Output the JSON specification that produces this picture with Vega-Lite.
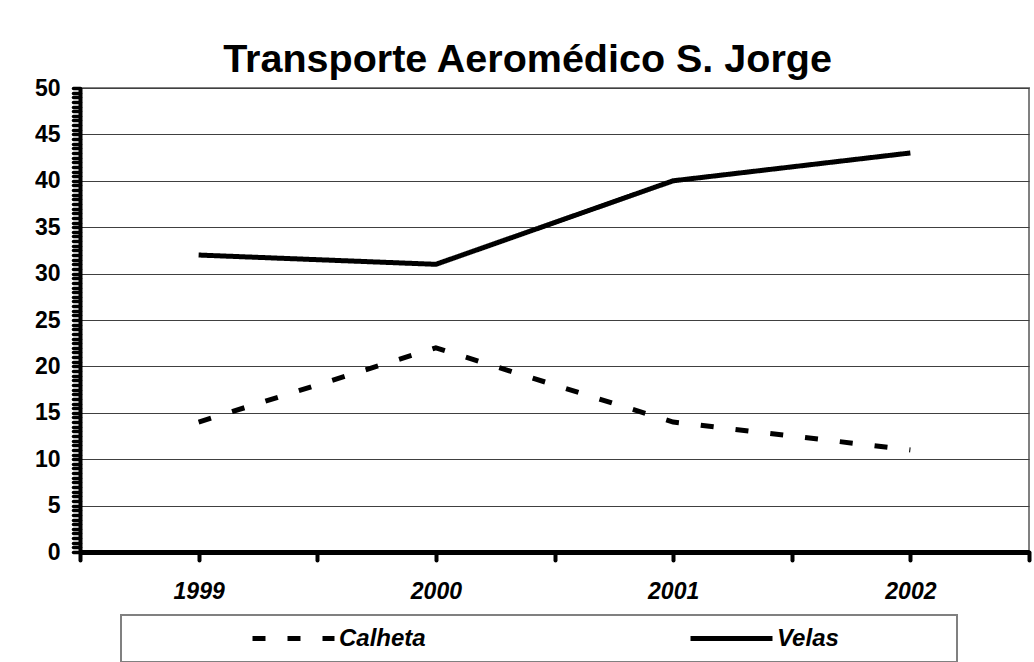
{
  "$schema": "https://vega.github.io/schema/vega-lite/v6.json",
  "autosize": {"type": "none"},
  "padding": {"left": 80, "top": 88, "right": 5, "bottom": 110},
  "width": 949,
  "height": 464,
  "background": "white",
  "config": {
    "font": "Liberation Sans",
    "view": {"stroke": "#808080", "strokeWidth": 2}
  },
  "title": {
    "text": "Transporte Aeromédico S. Jorge",
    "font": "Liberation Sans",
    "fontSize": 39.5,
    "fontWeight": "bold",
    "color": "black",
    "anchor": "middle",
    "frame": "group",
    "baseline": "alphabetic",
    "offset": -34,
    "dx": -27
  },
  "data": {
    "values": [
      {"year": 1999, "series": "Calheta", "value": 14},
      {"year": 2000, "series": "Calheta", "value": 22},
      {"year": 2001, "series": "Calheta", "value": 14},
      {"year": 2002, "series": "Calheta", "value": 11},
      {"year": 1999, "series": "Velas", "value": 32},
      {"year": 2000, "series": "Velas", "value": 31},
      {"year": 2001, "series": "Velas", "value": 40},
      {"year": 2002, "series": "Velas", "value": 43}
    ]
  },
  "mark": {"type": "line", "strokeWidth": 5, "color": "black", "strokeCap": "butt"},
  "encoding": {
    "x": {
      "field": "year",
      "type": "quantitative",
      "scale": {"domain": [1998.5, 2002.5], "nice": false, "zero": false},
      "axis": {
        "title": null,
        "values": [1998.5, 1999, 1999.5, 2000, 2000.5, 2001, 2001.5, 2002, 2002.5],
        "labelExpr": "datum.value % 1 === 0 ? format(datum.value, 'd') : ''",
        "grid": false,
        "domainColor": "black",
        "domainWidth": 5,
        "tickColor": "black",
        "tickWidth": 4,
        "tickSize": 8,
        "tickCap": "round",
        "labelFont": "Liberation Sans",
        "labelFontSize": 23,
        "labelFontWeight": "bold",
        "labelFontStyle": "italic",
        "labelColor": "black",
        "labelPadding": 20,
        "labelFlush": false,
        "labelOverlap": false
      }
    },
    "y": {
      "field": "value",
      "type": "quantitative",
      "scale": {"domain": [0, 50], "nice": false},
      "axis": {
        "title": null,
        "values": [0,0.5,1,1.5,2,2.5,3,3.5,4,4.5,5,5.5,6,6.5,7,7.5,8,8.5,9,9.5,10,10.5,11,11.5,12,12.5,13,13.5,14,14.5,15,15.5,16,16.5,17,17.5,18,18.5,19,19.5,20,20.5,21,21.5,22,22.5,23,23.5,24,24.5,25,25.5,26,26.5,27,27.5,28,28.5,29,29.5,30,30.5,31,31.5,32,32.5,33,33.5,34,34.5,35,35.5,36,36.5,37,37.5,38,38.5,39,39.5,40,40.5,41,41.5,42,42.5,43,43.5,44,44.5,45,45.5,46,46.5,47,47.5,48,48.5,49,49.5,50],
        "labelExpr": "datum.value % 5 === 0 ? format(datum.value, 'd') : ''",
        "grid": true,
        "gridColor": "#404040",
        "gridWidth": 1,
        "gridOpacity": {"condition": {"test": "datum.value % 5 === 0 && datum.value > 0", "value": 1}, "value": 0},
        "domainColor": "black",
        "domainWidth": 4,
        "tickColor": "black",
        "tickWidth": 3.5,
        "tickSize": 7,
        "tickCap": "round",
        "labelFont": "Liberation Sans",
        "labelFontSize": 23,
        "labelFontWeight": "bold",
        "labelColor": "black",
        "labelPadding": 13,
        "labelOverlap": false,
        "labelFlush": false
      }
    },
    "strokeDash": {
      "field": "series",
      "type": "nominal",
      "scale": {"domain": ["Calheta", "Velas"], "range": [[13, 22], [1, 0]]},
      "legend": {
        "title": " ",
        "titleOrient": "right",
        "titleFontSize": 4,
        "titlePadding": 108,
        "orient": "none",
        "legendX": 41,
        "legendY": 527,
        "direction": "horizontal",
        "columns": 2,
        "columnPadding": 143,
        "padding": 10,
        "strokeColor": "#808080",
        "fillColor": "white",
        "symbolType": "stroke",
        "symbolSize": 6724,
        "symbolStrokeWidth": 5,
        "symbolStrokeColor": "black",
        "symbolOffset": 119,
        "clipHeight": 27,
        "labelOffset": 2,
        "labelFont": "Liberation Sans",
        "labelFontSize": 24,
        "labelFontWeight": "bold",
        "labelFontStyle": "italic",
        "labelColor": "black",
        "labelLimit": 300,
        "encode": {"legend": {"update": {"strokeWidth": {"value": 2}}}}
      }
    }
  }
}
